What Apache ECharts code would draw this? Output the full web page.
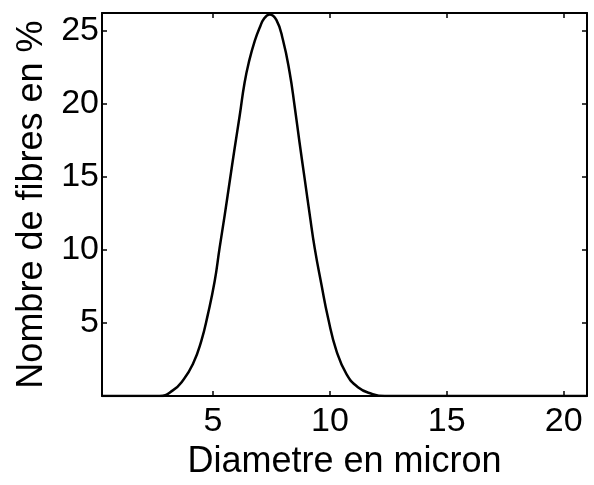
<!DOCTYPE html>
<html lang="fr">
<head>
    <meta charset="UTF-8">
    <title>Nombre de fibres</title>
    <script type="text/javascript" src="https://cdn.jsdelivr.net/npm/echarts@6/dist/echarts.min.js"></script>
    <style>
        html, body { margin: 0; padding: 0; background: #fff; }
    </style>
</head>
<body>
<div id="container" style="width: 594px; height: 485px"></div>
<script type="text/javascript">
    // points (diametre en micron, % de fibres)
    var diametre = [0.25, 1.5, 2.71, 3.28, 3.71, 4.14, 4.50, 4.78, 5.07, 5.28, 5.50, 5.71, 5.92, 6.14,
        6.35, 6.56, 6.78, 6.99, 7.20, 7.42, 7.71, 7.99, 8.28, 8.49, 8.70, 8.92, 9.14, 9.35, 9.64,
        9.92, 10.28, 10.71, 11.20, 11.78, 12.35, 15, 21];
    var fibres = [0, 0, 0, 0.39, 1.07, 2.19, 3.78, 5.59, 7.85, 10.12, 12.38, 14.64, 16.90, 19.17,
        21.43, 23.01, 24.26, 25.17, 25.85, 26.1, 25.73, 24.37, 22.11, 19.84, 17.36, 14.87, 12.38,
        10.12, 7.62, 5.36, 3.10, 1.51, 0.61, 0.16, 0, 0, 0];
    var xTicks = [5, 10, 15, 20];
    var yTicks = [5, 10, 15, 20, 25];

    var serie = [];
    for (var i = 0; i < diametre.length; i++) {
        serie.push([diametre[i], fibres[i]]);
    }

    var dom = document.getElementById('container');
    var myChart = echarts.init(dom, null, {renderer: 'canvas'});

    var font = 'Liberation Sans, Arial, Helvetica, sans-serif';
    var ligne = {show: true, onZero: false, lineStyle: {color: '#000', width: 2}};

    var option = {
        animation: false,
        backgroundColor: '#fff',
        grid: {left: 102, right: 7, top: 13, bottom: 86},
        xAxis: [
            {
                type: 'value', position: 'bottom', min: 0.25, max: 21,
                axisLine: ligne,
                axisTick: {inside: true, length: 5, customValues: xTicks, lineStyle: {color: '#000', width: 1.5}},
                axisLabel: {customValues: xTicks, color: '#000', fontSize: 34, fontFamily: font, margin: 9},
                splitLine: {show: false},
                name: 'Diametre en micron', nameLocation: 'middle', nameGap: 40,
                nameTextStyle: {color: '#000', fontSize: 36, fontFamily: font}
            },
            {
                type: 'value', position: 'top', min: 0.25, max: 21,
                axisLine: ligne,
                axisTick: {inside: true, length: 5, customValues: xTicks, lineStyle: {color: '#000', width: 1.5}},
                axisLabel: {show: false},
                splitLine: {show: false}
            }
        ],
        yAxis: [
            {
                type: 'value', position: 'left', min: 0, max: 26.2,
                axisLine: ligne,
                axisTick: {inside: true, length: 5, customValues: yTicks, lineStyle: {color: '#000', width: 1.5}},
                axisLabel: {customValues: yTicks, color: '#000', fontSize: 34, fontFamily: font, margin: 3},
                splitLine: {show: false},
                name: 'Nombre de fibres en %', nameLocation: 'middle', nameGap: 51,
                nameTextStyle: {color: '#000', fontSize: 36, fontFamily: font}
            },
            {
                type: 'value', position: 'right', min: 0, max: 26.2,
                axisLine: ligne,
                axisTick: {inside: true, length: 5, customValues: yTicks, lineStyle: {color: '#000', width: 1.5}},
                axisLabel: {show: false},
                splitLine: {show: false}
            }
        ],
        series: [
            {
                type: 'line',
                data: serie,
                showSymbol: false,
                smooth: 0.5,
                lineStyle: {color: '#000', width: 2.5}
            }
        ]
    };

    myChart.setOption(option);
    window.addEventListener('resize', myChart.resize);
</script>
</body>
</html>
